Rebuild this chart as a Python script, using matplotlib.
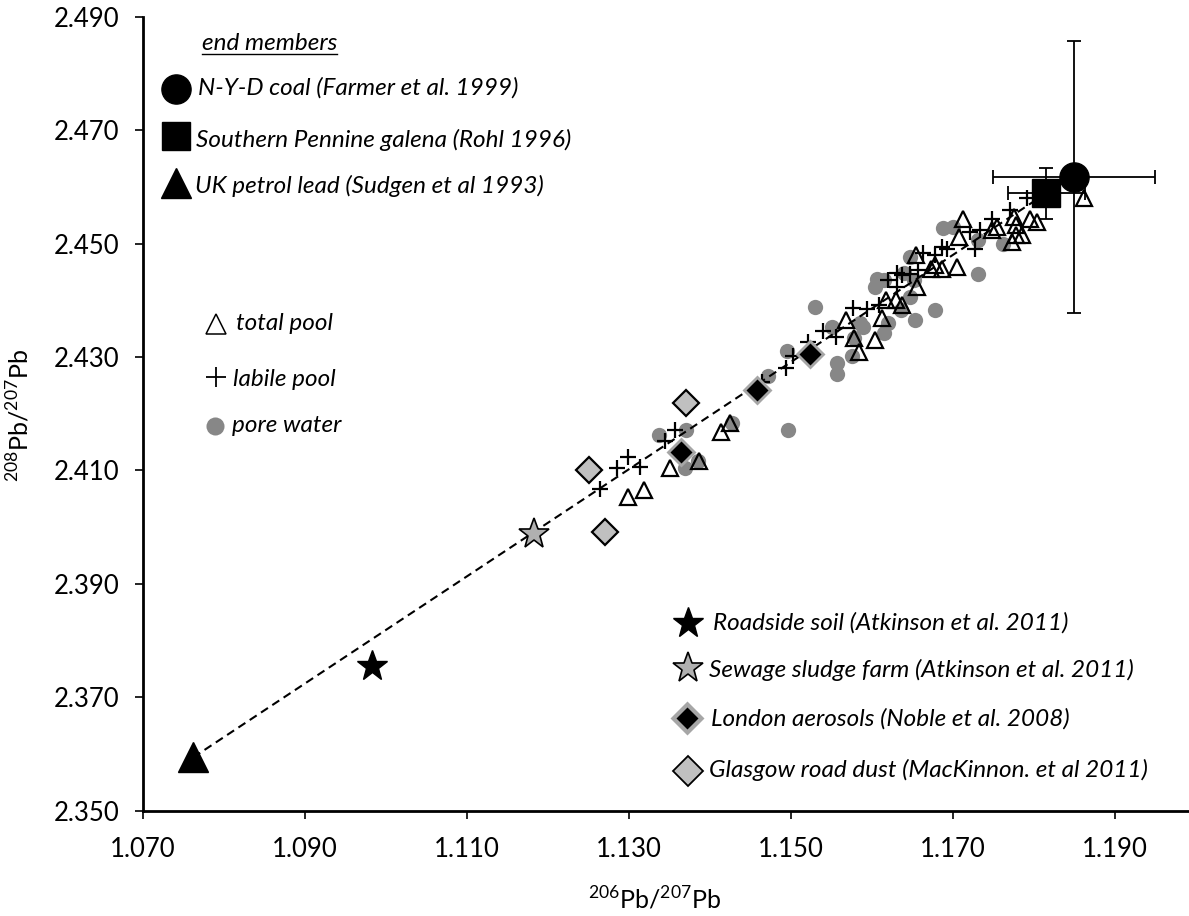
import matplotlib
matplotlib.use('Agg')
import matplotlib.pyplot as plt
from matplotlib.lines import Line2D
from matplotlib.ticker import FormatStrFormatter

plt.rcParams['font.family'] = ['Lato', 'DejaVu Sans']
plt.rcParams['mathtext.fontset'] = 'custom'
plt.rcParams['mathtext.rm'] = 'Lato'

# total pool (open triangles)
total_x = [1.1298, 1.1318, 1.1351, 1.1386, 1.1413, 1.1424, 1.1568, 1.1578, 1.1584,
           1.1604, 1.1612, 1.1629, 1.1637, 1.1655, 1.1654, 1.1672, 1.1686, 1.1712,
           1.1707, 1.1705, 1.1678, 1.1617, 1.1748, 1.1754, 1.1775, 1.1777, 1.1777,
           1.1785, 1.1795, 1.1803, 1.1861, 1.1772]
total_y = [2.4054, 2.4065, 2.4104, 2.4117, 2.4168, 2.4183, 2.4366, 2.4333, 2.4309,
           2.4330, 2.4368, 2.4400, 2.4392, 2.4424, 2.4480, 2.4456, 2.4456, 2.4544,
           2.4512, 2.4459, 2.4462, 2.4400, 2.4524, 2.4530, 2.4547, 2.4533, 2.4515,
           2.4515, 2.4544, 2.4538, 2.4580, 2.4503]

# labile pool (+)
labile_x = [1.1264, 1.1285, 1.1298, 1.1314, 1.1344, 1.1357, 1.1464, 1.1493, 1.1502,
            1.1521, 1.1539, 1.1555, 1.1576, 1.1593, 1.1608, 1.1620, 1.1630, 1.1637,
            1.1630, 1.1663, 1.1678, 1.1748, 1.1770, 1.1791, 1.1733, 1.1721, 1.1727,
            1.1686, 1.1692, 1.1657, 1.1647]
labile_y = [2.4068, 2.4104, 2.4124, 2.4106, 2.4151, 2.4171, 2.4256, 2.4280, 2.4302,
            2.4327, 2.4346, 2.4335, 2.4386, 2.4384, 2.4392, 2.4436, 2.4448, 2.4445,
            2.4424, 2.4483, 2.4480, 2.4544, 2.4559, 2.4580, 2.4524, 2.4521, 2.4491,
            2.4494, 2.4491, 2.4453, 2.4447]

# pore water (grey dots)
pore_x = [1.1530, 1.1495, 1.1472, 1.1557, 1.1557, 1.1496, 1.1337, 1.1370, 1.1427,
          1.1385, 1.1369, 1.1678, 1.1653, 1.1577, 1.1589, 1.1614, 1.1604, 1.1614,
          1.1639, 1.1647, 1.1575, 1.1647, 1.1687, 1.1700, 1.1731, 1.1762, 1.1730,
          1.1606, 1.1651, 1.1635, 1.1620, 1.1550, 1.1585]
pore_y = [2.4388, 2.4311, 2.4266, 2.4289, 2.4270, 2.4172, 2.4162, 2.4171, 2.4183,
          2.4117, 2.4104, 2.4383, 2.4365, 2.4333, 2.4353, 2.4342, 2.4424, 2.4436,
          2.4448, 2.4406, 2.4301, 2.4477, 2.4527, 2.4530, 2.4506, 2.4500, 2.4446,
          2.4438, 2.4435, 2.4383, 2.4360, 2.4353, 2.4360]

london_x = [1.1364, 1.1458, 1.1523]
london_y = [2.4133, 2.4242, 2.4305]
glasgow_x = [1.1251, 1.1370, 1.1270]
glasgow_y = [2.4100, 2.4219, 2.3991]
roadside_x, roadside_y = [1.0983], [2.3755]
sewage_x, sewage_y = [1.1183], [2.3988]

# end members
coal_x, coal_y, coal_xerr, coal_yerr = [1.1849], [2.4618], [0.010], [0.024]
galena_x, galena_y, galena_xerr, galena_yerr = [1.1815], [2.4589], [0.0048], [0.0045]
petrol_x, petrol_y = [1.0762], [2.3594]

x_ticks = [1.07, 1.09, 1.11, 1.13, 1.15, 1.17, 1.19]
y_ticks = [2.35, 2.37, 2.39, 2.41, 2.43, 2.45, 2.47, 2.49]

W, H = 1189, 916
fig = plt.figure(figsize=(W / 100, H / 100), dpi=100)
ax = fig.add_axes([143 / W, 1 - 810.7 / H, (W - 143) / W, (810.7 - 16.7) / H])

# mixing line petrol lead -> galena
ax.plot([petrol_x[0], galena_x[0]], [petrol_y[0], galena_y[0]], color='k', lw=1.5,
        ls=(0, (4, 2.5)), zorder=3.5)

ax.plot(pore_x, pore_y, 'o', ms=11, color='#878787', mec='none', zorder=2)
ax.plot(total_x, total_y, '^', ms=11.5, mfc='none', mec='k', mew=1.6, zorder=3)
ax.plot(labile_x, labile_y, '+', ms=11, color='k', mew=1.6, zorder=4)

ax.plot(glasgow_x, glasgow_y, 'D', ms=13, mfc='#c0c0c0', mec='k', mew=1.6, zorder=6)
ax.plot(london_x, london_y, 'D', ms=15.5, mfc='#a6a6a6', mec='none', zorder=6)
ax.plot(london_x, london_y, 'D', ms=11, mfc='k', mec='none', zorder=6)
ax.plot(roadside_x, roadside_y, '*', ms=23, color='k', zorder=6)
ax.plot(sewage_x, sewage_y, '*', ms=23, mfc='#b0b0b0', mec='k', mew=1.2, zorder=6)

ax.errorbar(galena_x, galena_y, xerr=galena_xerr, yerr=galena_yerr, fmt='s', ms=20,
            color='k', ecolor='k', elinewidth=1.3, capsize=5, capthick=1.3, zorder=7)
ax.errorbar(coal_x, coal_y, xerr=coal_xerr, yerr=coal_yerr, fmt='o', ms=21,
            color='k', ecolor='k', elinewidth=1.3, capsize=5, capthick=1.3, zorder=8)
ax.plot(petrol_x, petrol_y, '^', ms=21, color='k', zorder=7, clip_on=False)

ax.set_xlim(1.070, 1.1991)
ax.set_ylim(2.350, 2.490)
ax.set_xticks(x_ticks)
ax.set_yticks(y_ticks)
ax.xaxis.set_major_formatter(FormatStrFormatter('%.3f'))
ax.yaxis.set_major_formatter(FormatStrFormatter('%.3f'))
ax.tick_params(direction='out', length=6, width=1.2, labelsize=18.5)
ax.tick_params(axis='y', pad=11)
ax.tick_params(axis='x', pad=13)
for side in ['top', 'right']:
    ax.spines[side].set_visible(False)
for side in ['left', 'bottom']:
    ax.spines[side].set_linewidth(2)

fig.text(655 / W, 1 - 900 / H, r'$^{206}$Pb/$^{207}$Pb', fontsize=18, ha='center', va='center')
fig.text(20 / W, 1 - 415 / H, r'$^{208}$Pb/$^{207}$Pb', fontsize=18, ha='center',
         va='center', rotation=90)


def key(px, py, **kw):
    ax.plot([px / W], [1 - py / H], transform=fig.transFigure, clip_on=False, **kw)


def label(px, py, s):
    return fig.text(px / W, 1 - py / H, s, fontsize=17.5, fontstyle='italic', va='baseline')


# end members block
t = label(202, 50, 'end members')
fig.canvas.draw()
bb = t.get_window_extent()
fig.add_artist(Line2D([bb.x0 / W, bb.x1 / W], [1 - 54 / H, 1 - 54 / H], color='k', lw=1))
key(176, 89, marker='o', ms=21, color='k')
label(198, 95, 'N-Y-D coal (Farmer et al. 1999)')
key(176, 136, marker='s', ms=20, color='k')
label(196, 147, 'Southern Pennine galena (Rohl 1996)')
key(176, 183, marker='^', ms=21, color='k')
label(195, 193, 'UK petrol lead (Sudgen et al 1993)')

# pools block
key(216, 324, marker='^', ms=14, mfc='none', mec='k', mew=1.1)
label(236, 330, 'total pool')
key(216, 377, marker='+', ms=14, color='k', mew=1.3)
label(233, 386, 'labile pool')
key(215, 426, marker='o', ms=13, color='#878787', mec='none')
label(232, 432, 'pore water')

# sources block
key(688, 623, marker='*', ms=23, color='k')
label(713, 630, 'Roadside soil (Atkinson et al. 2011)')
key(688, 668, marker='*', ms=23, mfc='#b0b0b0', mec='k', mew=1.2)
label(709, 677, 'Sewage sludge farm (Atkinson et al. 2011)')
key(687, 718, marker='D', ms=17, mfc='#a6a6a6', mec='none')
key(687, 718, marker='D', ms=11, mfc='k', mec='none')
label(711, 726, 'London aerosols (Noble et al. 2008)')
key(688, 771, marker='D', ms=15, mfc='#c0c0c0', mec='k', mew=1.3)
label(709, 777, 'Glasgow road dust (MacKinnon. et al 2011)')

fig.savefig('out.png', dpi=100)
